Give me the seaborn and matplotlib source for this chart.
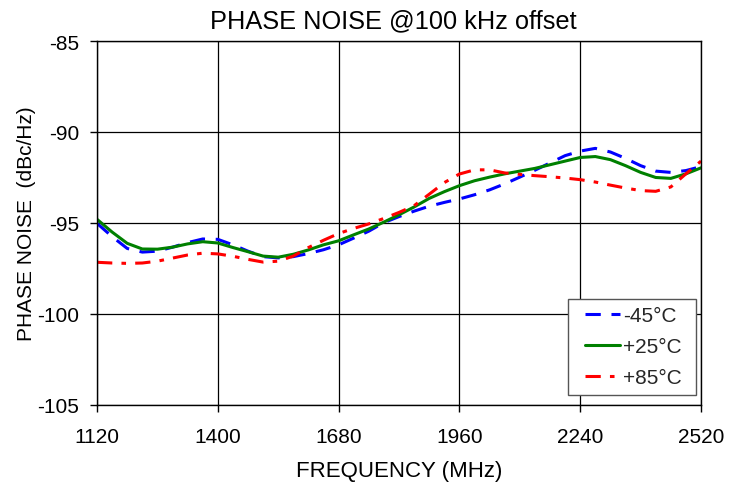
import matplotlib
matplotlib.use("Agg")
import matplotlib.pyplot as plt
import seaborn as sns
import pandas as pd
from matplotlib.lines import Line2D
from matplotlib.legend_handler import HandlerLine2D

freq = [1120, 1155, 1190, 1225, 1260, 1295, 1330, 1365, 1400, 1435, 1470,
        1505, 1540, 1575, 1610, 1645, 1680, 1715, 1750, 1785, 1820,
        1855, 1890, 1925, 1960, 1995, 2030, 2065, 2100, 2135, 2170,
        2205, 2240, 2275, 2310, 2345, 2380, 2415, 2450, 2485, 2520]
m45 = [-95.02, -95.75, -96.40, -96.60, -96.55, -96.33, -96.08, -95.88, -95.90, -96.20, -96.55,
       -96.85, -96.92, -96.85, -96.68, -96.47, -96.20, -95.83, -95.45, -94.98, -94.65,
       -94.35, -94.08, -93.87, -93.68, -93.45, -93.18, -92.85, -92.48, -92.10, -91.70,
       -91.30, -91.05, -90.90, -91.10, -91.45, -91.85, -92.15, -92.22, -92.12, -91.90]
p25 = [-94.80, -95.50, -96.12, -96.43, -96.44, -96.33, -96.15, -96.03, -96.10, -96.35, -96.58,
       -96.82, -96.88, -96.72, -96.48, -96.20, -95.98, -95.65, -95.33, -94.95, -94.55,
       -94.12, -93.65, -93.28, -92.95, -92.68, -92.48, -92.30, -92.15, -92.00, -91.80,
       -91.60, -91.40, -91.35, -91.52, -91.85, -92.22, -92.50, -92.55, -92.30, -91.97]
p85 = [-97.16, -97.20, -97.22, -97.20, -97.10, -96.93, -96.76, -96.66, -96.70, -96.83, -97.00,
       -97.15, -97.10, -96.82, -96.35, -95.95, -95.58, -95.30, -95.05, -94.75, -94.42,
       -94.05, -93.42, -92.78, -92.31, -92.08, -92.08, -92.25, -92.33, -92.40, -92.46,
       -92.53, -92.62, -92.75, -92.92, -93.08, -93.22, -93.26, -93.02, -92.30, -91.60]
series = ["-45°C", "+25°C", "+85°C"]
xticks = [1120, 1400, 1680, 1960, 2240, 2520]
yticks = [-85, -90, -95, -100, -105]

df = pd.DataFrame({
    "freq": freq * 3,
    "val": m45 + p25 + p85,
    "temp": [series[0]] * len(freq) + [series[1]] * len(freq) + [series[2]] * len(freq),
})

sns.set_theme(style="white")
plt.rcParams["font.family"] = ["Liberation Sans", "DejaVu Sans"]
plt.rcParams["axes.unicode_minus"] = False

fig = plt.figure(figsize=(7.39, 4.85), dpi=100)
ax = fig.add_axes([0.1313, 0.163, 0.8173, 0.7504])

palette = {series[0]: "#0000ff", series[1]: "#008000", series[2]: "#ff0000"}
sns.lineplot(data=df, x="freq", y="val", hue="temp", palette=palette, ax=ax,
             linewidth=2.2, legend=False)
lines = ax.get_lines()
lines[0].set_dashes([5, 3.5])
lines[2].set_dashes([5, 3, 1.5, 3])

ax.set_xlim(1120, 2520)
ax.set_ylim(-105, -85)
ax.set_xticks(xticks)
ax.set_yticks(yticks)
ax.grid(True, color="black", linewidth=0.9)
for s in ax.spines.values():
    s.set_color("black")
    s.set_linewidth(1.0)
ax.tick_params(axis="both", direction="out", length=5, width=1, color="black",
               labelsize=15, labelcolor="black", bottom=True, left=True)
ax.tick_params(axis="x", pad=11)
ax.tick_params(axis="y", pad=8)
ax.set_xlabel("FREQUENCY (MHz)", fontsize=16, color="black", labelpad=10)
ax.set_ylabel("PHASE NOISE  (dBc/Hz)", fontsize=15, color="black", labelpad=1)
ax.set_title("PHASE NOISE @100 kHz offset", fontsize=18.3, color="black", pad=10,
             x=0.49)

handles = [Line2D([], [], color=palette[series[0]], lw=2.2, dashes=[5, 3.5]),
           Line2D([], [], color=palette[series[1]], lw=2.2),
           Line2D([], [], color=palette[series[2]], lw=2.2, dashes=[5, 3, 1.5, 3])]
hmap = {h: HandlerLine2D(numpoints=2, marker_pad=0.46) for h in handles}
leg = ax.legend(handles, series, loc="lower left", handler_map=hmap,
                bbox_to_anchor=(0.7798, 0.0275, 0.2119, 0.2637), mode="expand",
                fontsize=15, frameon=True, fancybox=False, framealpha=1,
                edgecolor="#555555", handlelength=2.6, labelspacing=0.58,
                borderpad=0.36, handletextpad=-0.31, borderaxespad=0)
leg.get_frame().set_linewidth(1.0)

fig.savefig("out.png", dpi=100)
